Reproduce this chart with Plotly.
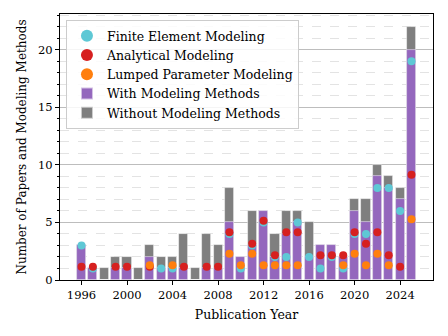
import plotly.graph_objects as go

years = list(range(1996, 2026))
total_papers = [3, 1, 1, 2, 2, 1, 3, 2, 2, 4, 1, 4, 3, 8, 2, 6, 6, 4, 6, 6, 5, 3, 3, 2, 7, 7, 10, 9, 8, 22]
with_methods = [3, 1, 0, 1, 1, 0, 2, 1, 1, 1, 0, 1, 1, 5, 2, 3, 6, 2, 4, 5, 2, 3, 3, 2, 6, 5, 9, 8, 7, 20]
fe_model = [3, 1, None, None, None, None, None, 1, 1, None, None, None, None, 4, 1, 3, 5, 2, 2, 5, 2, 1, 2, 1, 4, 4, 8, 8, 6, 19]
an_model = [1, 1, None, 1, 1, None, 1, None, None, 1, None, 1, 1, 4, None, 3, 5, 2, 4, 4, None, 2, 2, 2, 4, 3, 4, 2, 1, 9]
lp_model = [None, None, None, None, None, None, 1, None, 1, None, None, None, None, 2, 1, 2, 1, 1, 1, 1, None, None, None, 1, 2, 1, 2, 1, None, 5]

FONT = "DejaVu Serif"
C_FE = "#5ec8d5"
C_AM = "#d62020"
C_LP = "#ff7f0e"
C_WITH = "#9467bd"
C_WO = "#7f7f7f"

def shift(vals, d):
    return [None if v is None else v + d for v in vals]

fig = go.Figure()
bar_line = dict(color="rgba(255,255,255,0.6)", width=0.8)
fig.add_trace(go.Bar(x=years, y=total_papers, name="Without Modeling Methods", marker=dict(color=C_WO, line=bar_line),
                     width=0.8, legendrank=5))
fig.add_trace(go.Bar(x=years, y=with_methods, name="With Modeling Methods", marker=dict(color=C_WITH, line=bar_line),
                     width=0.8, legendrank=4))
fig.add_trace(go.Scatter(x=years, y=fe_model, mode="markers", name="Finite Element Modeling",
                         marker=dict(color=C_FE, size=8), legendrank=1))
fig.add_trace(go.Scatter(x=years, y=shift(an_model, 0.15), mode="markers", name="Analytical Modeling",
                         marker=dict(color=C_AM, size=8), legendrank=2))
fig.add_trace(go.Scatter(x=years, y=shift(lp_model, 0.28), mode="markers", name="Lumped Parameter Modeling",
                         marker=dict(color=C_LP, size=8), legendrank=3))

fig.update_layout(
    width=448, height=336,
    margin=dict(l=60, r=14.5, t=14, b=56),
    barmode="overlay", bargap=0,
    plot_bgcolor="white", paper_bgcolor="white",
    font=dict(family=FONT, size=11.5, color="black"),
    showlegend=True,
    legend=dict(x=0.016, y=0.977, xanchor="left", yanchor="top",
                bgcolor="rgba(255,255,255,0.85)", bordercolor="#cccccc", borderwidth=1,
                font=dict(family=FONT, size=12.5, color="black"), tracegroupgap=0, itemsizing="constant"),
)
fig.update_xaxes(
    range=[1994.11, 2026.89], tickmode="array", tickvals=list(range(1996, 2025, 4)),
    ticks="outside", ticklen=4, tickwidth=1, tickcolor="black", automargin=False,
    showline=True, linecolor="black", linewidth=1, mirror=True, showgrid=False, zeroline=False,
    title=dict(text="Publication Year", font=dict(family=FONT, size=12.5), standoff=9),
    tickfont=dict(family=FONT, size=11.5),
)
fig.update_yaxes(
    range=[0, 23.1], tickmode="array", tickvals=[0, 5, 10, 15, 20],
    ticks="outside", ticklen=4, tickwidth=1, tickcolor="black", automargin=False,
    showline=True, linecolor="black", linewidth=1, mirror=True,
    showgrid=True, gridcolor="#bdbdbd", gridwidth=1, zeroline=False,
    minor=dict(dtick=1, tick0=0, ticks="outside", ticklen=2, tickcolor="black",
               showgrid=True, gridcolor="#e3e3e3", griddash="dash", gridwidth=1),
    title=dict(text="Number of Papers and Modeling Methods", font=dict(family=FONT, size=12), standoff=8),
    tickfont=dict(family=FONT, size=11.5),
)

fig.write_html("out.html", config={"displayModeBar": False},
               post_script="document.body.style.margin='0';")
